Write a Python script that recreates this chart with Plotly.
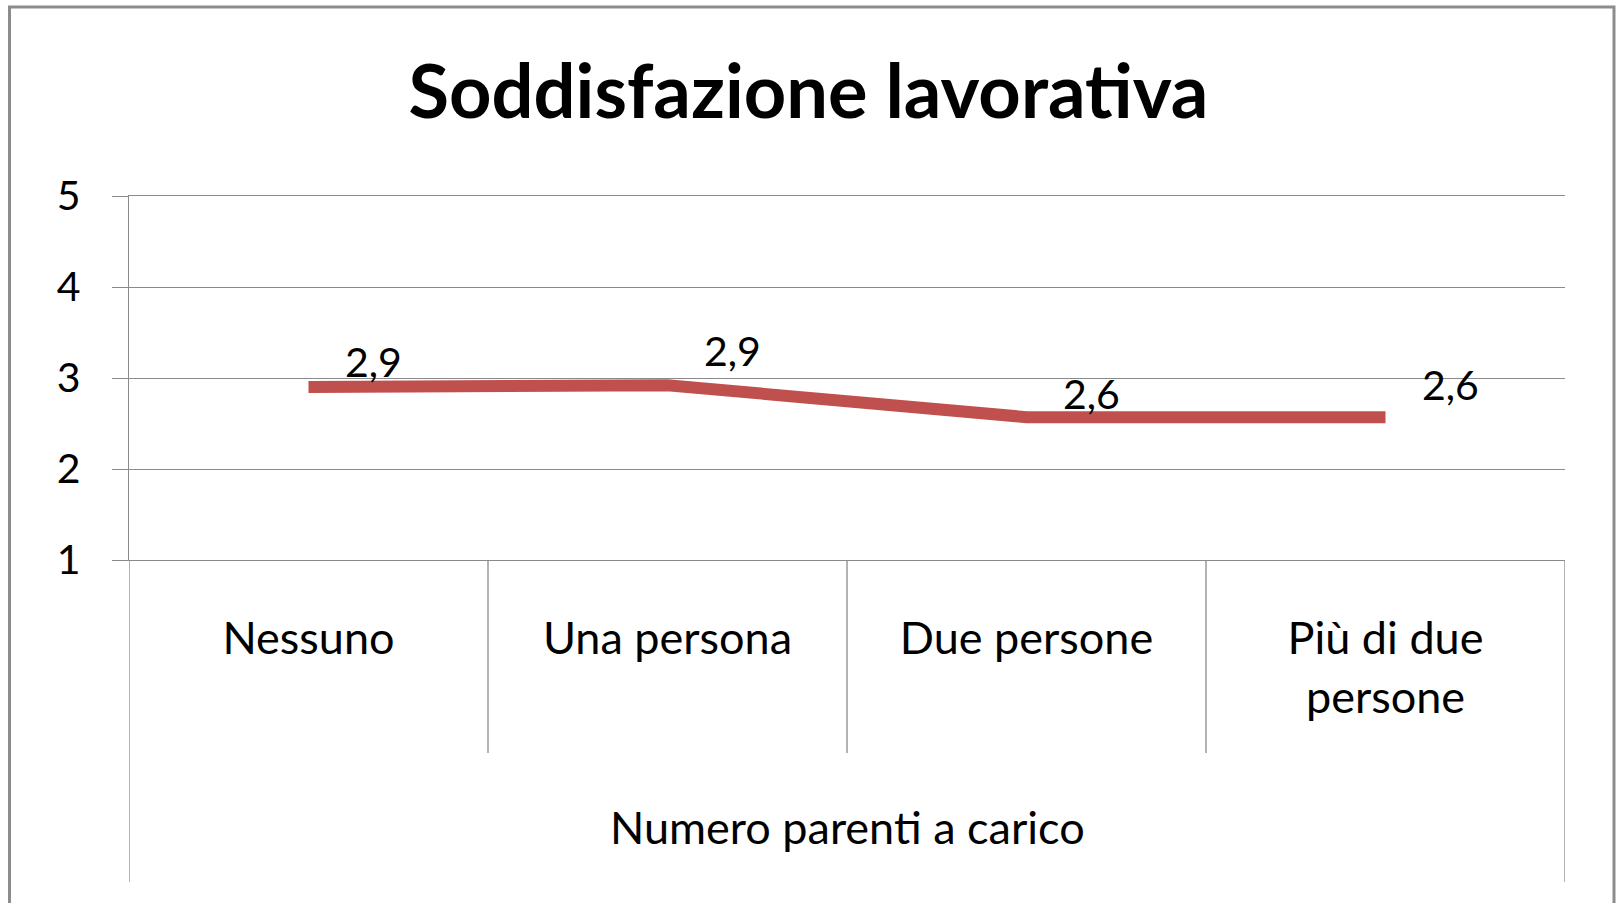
import plotly.graph_objects as go

categories = ["Nessuno", "Una persona", "Due persone", "Più di due<br>persone"]
values = [2.90, 2.92, 2.57, 2.57]
y_ticks = [1, 2, 3, 4, 5]
title_text = "Soddisfazione lavorativa"
x_title = "Numero parenti a carico"

FONT = "Lato"
GRID = "#8a8a8a"
LINE = "#C0504D"

W, H = 1617, 903
L, R, T, B = 129, 52, 196, 343
PW, PH = W - L - R, H - T - B


def py(px):
    return (H - B - px) / PH


def pxx(px):
    return (px - L) / PW


xs = list(range(len(categories)))

fig = go.Figure()
fig.add_trace(go.Scatter(
    x=xs, y=values, mode="lines",
    line=dict(color=LINE, width=12),
    hoverinfo="skip", showlegend=False,
))

# data labels
label_dy = [26, 35, 24, 33]
for i, v in enumerate(values):
    fig.add_annotation(
        x=xs[i], y=v, xref="x", yref="y",
        text=f"{v:.1f}".replace(".", ","),
        showarrow=False, xshift=65, yshift=label_dy[i],
        font=dict(family=FONT, size=41, color="#000000"),
    )

shapes = []
# category dividers below axis
for b in [0.5, 1.5, 2.5]:
    shapes.append(dict(type="line", xref="x", yref="paper", x0=b, x1=b,
                       y0=0, y1=py(753), line=dict(color=GRID, width=1.3)))
for b in [-0.5, 3.5]:
    shapes.append(dict(type="line", xref="x", yref="paper", x0=b, x1=b,
                       y0=0, y1=py(882), line=dict(color=GRID, width=1.3)))
# outer chart frame
shapes.append(dict(type="rect", xref="paper", yref="paper",
                   x0=pxx(9.5), x1=pxx(1614), y0=py(930), y1=py(7),
                   line=dict(color="#8c8c8c", width=3), fillcolor="rgba(0,0,0,0)",
                   layer="above"))

fig.add_annotation(
    x=0.5, y=py(827), xref="paper", yref="paper", text=x_title,
    showarrow=False, yanchor="middle",
    font=dict(family=FONT, size=45, color="#000000"),
)

fig.update_layout(
    width=W, height=H,
    margin=dict(l=L, r=R, t=T, b=B),
    paper_bgcolor="white", plot_bgcolor="white",
    title=dict(text=f"<b>{title_text}</b>", x=0.5, xanchor="center",
               y=1 - 92 / H, yanchor="middle",
               font=dict(family=FONT, size=74, color="#000000")),
    shapes=shapes,
    xaxis=dict(
        range=[-0.5, 3.5], tickvals=xs, ticktext=categories,
        showgrid=False, zeroline=False, ticks="",
        showline=True, mirror=True, linecolor=GRID, linewidth=1.3,
        tickfont=dict(family=FONT, size=45, color="#000000"),
        ticklabelstandoff=39, fixedrange=True,
    ),
    yaxis=dict(
        range=[1, 5], tickvals=y_ticks, showgrid=True, gridcolor=GRID, gridwidth=1.3,
        zeroline=False, showline=True, linecolor=GRID, linewidth=1.3,
        ticks="outside", ticklen=16, tickcolor=GRID, tickwidth=1.3,
        tickfont=dict(family=FONT, size=41, color="#000000"),
        ticklabelstandoff=23, fixedrange=True,
    ),
)

fig.write_html(
    "out.html",
    config={"displayModeBar": False},
    post_script="document.body.style.margin='0';document.body.style.overflow='hidden';",
)
